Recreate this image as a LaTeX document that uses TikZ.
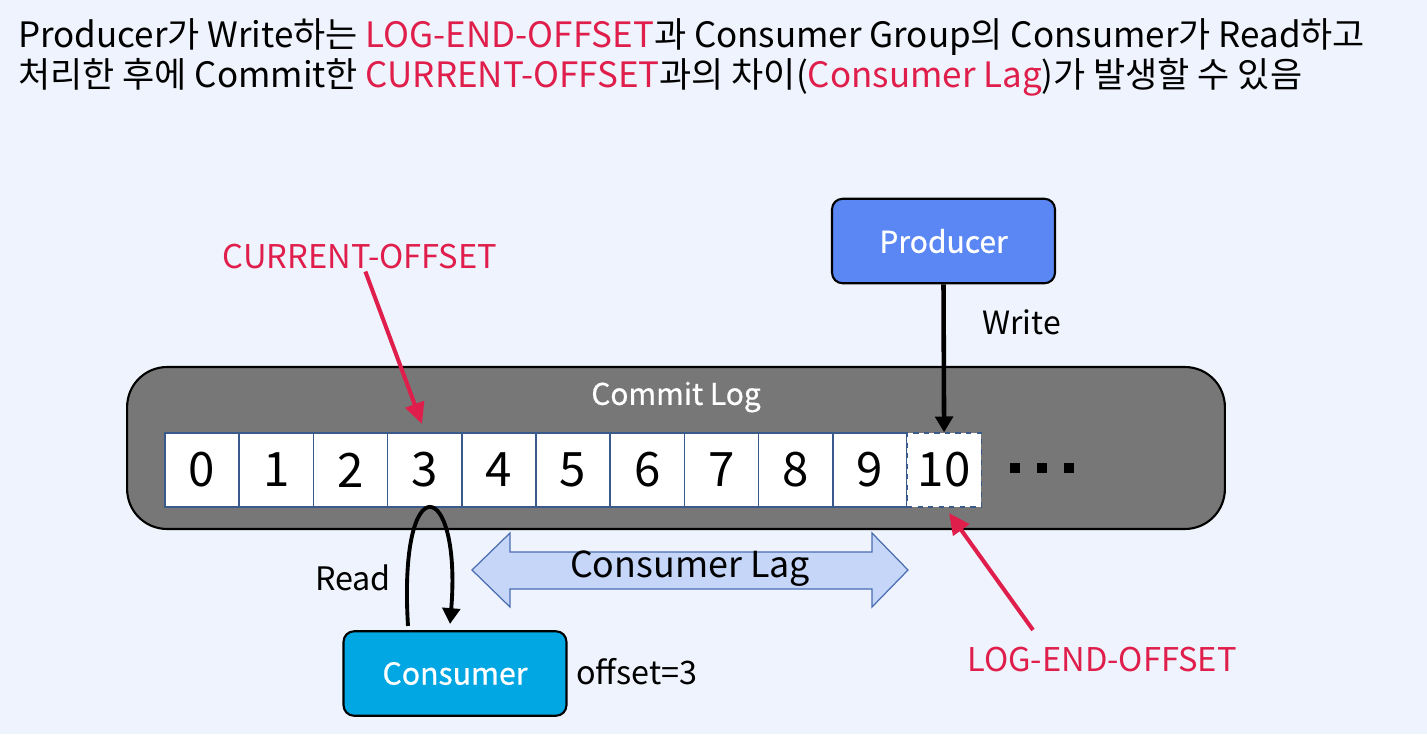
\documentclass[tikz,border=0pt]{standalone}
\usepackage{fontspec}
\setmainfont{Noto Sans CJK KR}
\newfontfamily\boxfont[FakeBold=0.7]{Noto Sans CJK KR}
\usetikzlibrary{arrows.meta}
\definecolor{bgblue}{HTML}{EEF3FD}
\definecolor{offred}{HTML}{E01E4B}
\definecolor{prodblue}{HTML}{5A87F4}
\definecolor{consblue}{HTML}{00A7E3}
\definecolor{loggrey}{HTML}{777777}
\definecolor{celledge}{HTML}{3A5A8C}
\definecolor{lagfill}{HTML}{C6D6F8}
\definecolor{lagedge}{HTML}{4A6DB0}
\tikzset{
  titleline/.style={anchor=west, inner sep=0pt, font=\fontsize{19.9}{24}\selectfont},
  box/.style={draw=black, line width=1.2pt, rounded corners=6pt, text=white,
              minimum width=4.46cm, minimum height=1.69cm},
  cell/.style={draw=celledge, fill=white, line width=0.8pt, minimum width=1.484cm,
               minimum height=1.48cm, inner sep=0pt, font=\fontsize{27}{30}\selectfont},
  lbl/.style={inner sep=1pt, font=\fontsize{18.4}{22}\selectfont},
  redlbl/.style={lbl, text=offred, font=\fontsize{18.6}{22}\selectfont},
  redarrow/.style={draw=offred, line width=2.3pt, -{Triangle[length=12pt,width=11pt]}},
  blackarrow/.style={draw=black, line width=2.6pt, -{Triangle[length=9pt,width=10pt]}}
}
\begin{document}
\begin{tikzpicture}[x=0.02cm, y=-0.02cm]
  % background
  \fill[bgblue] (0,0) rectangle (1427,734);
  \useasboundingbox (0,0) rectangle (1427,734);

  % heading
  \node[titleline] (head1) at (18,37) {Producer가 Write하는 \textcolor{offred}{LOG-END-OFFSET}과 Consumer Group의 Consumer가 Read하고};
  \node[titleline] (head2) at (18,77) {처리한 후에 Commit한 \textcolor{offred}{CURRENT-OFFSET}과의 차이(\textcolor{offred}{Consumer Lag})가 발생할 수 있음};

  % commit log
  \node[draw=black, fill=loggrey, line width=1.2pt, rounded corners=0.8cm,
        minimum width=21.96cm, minimum height=3.24cm] (log) at (676,448) {};
  \node[lbl, text=white, font=\boxfont\fontsize{17}{20}\selectfont] (logname) at (676,397) {Commit Log};
  \foreach \i in {0,...,9}{
    \node[cell] (c\i) at ({202.1+74.2*\i},470) {\i};
  }
  \node[cell, dashed] (c10) at ({202.1+74.2*10},470) {10};
  \foreach \d in {1010,1037,1064}{
    \fill[black] (\d,463) rectangle +(10,10);
  }

  % producer
  \node[box, fill=prodblue, font=\boxfont\fontsize{17.1}{20}\selectfont] (producer) at (943.5,241) {Producer};
  \draw[blackarrow] (producer.south) -- (c10.north);
  \node[lbl, anchor=west, font=\fontsize{18.2}{22}\selectfont] (write) at (980,322) {Write};

  % consumer
  \node[box, fill=consblue, font=\boxfont\fontsize{17.2}{20}\selectfont] (consumer) at (455,673.5) {Consumer};
  \node[lbl, anchor=west] (offset) at (574,672) {offset=3};
  \coordinate (readout) at (408,626);
  \coordinate (readin) at (450,624);
  \draw[blackarrow, line width=2.2pt] (readout) .. controls (398,462) and (462,478) .. (readin);
  \node[lbl] (read) at (353,578) {Read};

  % consumer lag
  \draw[fill=lagfill, draw=lagedge, line width=0.7pt]
    (472,570) -- (510,533) -- (510,552) -- (872,552) -- (872,533) -- (908,570)
    -- (872,607) -- (872,589) -- (510,589) -- (510,607) -- cycle;
  \node[font=\fontsize{20.4}{24}\selectfont] (lag) at (690,569) {Consumer Lag};

  % offsets
  \node[redlbl] (curoff) at (360,257) {CURRENT-OFFSET};
  \coordinate (curtip) at (422,424);
  \draw[redarrow] (curoff) -- (curtip);
  \node[redlbl] (endoff) at (1102,660) {LOG-END-OFFSET};
  \coordinate (endstart) at (1033,630);
  \coordinate (endtip) at (949,513);
  \draw[redarrow] (endstart) -- (endtip);
\end{tikzpicture}
\end{document}
